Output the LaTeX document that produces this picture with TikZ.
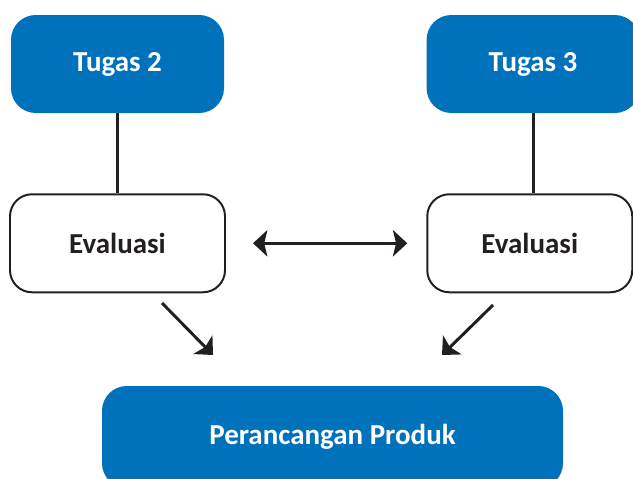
\documentclass[tikz,border=0pt]{standalone}
\usepackage{fontspec}
\setmainfont{Carlito}
\usepackage{xcolor}
\usepackage{tikz}
\usetikzlibrary{positioning,calc,arrows.meta}
\definecolor{taskBlue}{RGB}{0,113,187}
\definecolor{inkDark}{RGB}{35,31,32}
\tikzset{
  taskBox/.style={
    rectangle,
    rounded corners=0.62cm,
    fill=taskBlue,
    text=white,
    minimum width=5.325cm,
    minimum height=2.45cm,
    font=\fontsize{20.6}{24}\selectfont\bfseries,
    align=center
  },
  evalBox/.style={
    rectangle,
    rounded corners=0.55cm,
    draw=inkDark,
    line width=1.4pt,
    fill=white,
    text=inkDark,
    minimum height=2.45cm,
    font=\fontsize{20.6}{24}\selectfont\bfseries,
    align=center
  },
  productBox/.style={
    rectangle,
    rounded corners=0.62cm,
    fill=taskBlue,
    text=white,
    minimum width=11.525cm,
    minimum height=2.55cm,
    font=\fontsize{20.6}{24}\selectfont\bfseries,
    align=center
  },
  plainLine/.style={
    draw=inkDark,
    line width=2.1pt
  },
  arrowLine/.style={
    -{Stealth[length=0.36cm,width=0.66cm,inset=0.08cm]},
    draw=inkDark,
    fill=inkDark,
    line width=2.1pt
  },
  doubleArrow/.style={
    {Stealth[length=0.36cm,width=0.66cm,inset=0.08cm]}-{Stealth[length=0.36cm,width=0.66cm,inset=0.08cm]},
    draw=inkDark,
    fill=inkDark,
    line width=2.1pt
  }
}

\begin{document}
\begin{tikzpicture}
        \useasboundingbox (0,0) rectangle (15.825,-11.95);

        \node[taskBox] (tugasA) at (2.9375,-1.6) {Tugas 2};
        \node[taskBox, right=5.05cm of tugasA] (tugasB) {Tugas 3};
        \node[evalBox, minimum width=5.375cm, below=2cm of tugasA] (evalA) {Evaluasi};
        \node[evalBox, minimum width=5.125cm, below=2cm of tugasB.south west, anchor=north west] (evalB) {Evaluasi};
        \node[productBox] (produk) at (8.3125,-10.925) {Perancangan Produk};

        % ujung panah miring
        \coordinate (aStart) at (4.05,-7.575);
        \coordinate (aEnd) at (5.325,-8.875);
        \coordinate (bStart) at (12.325,-7.625);
        \coordinate (bEnd) at (11.05,-8.875);

        \draw[plainLine] (tugasA) -- (evalA);
        \draw[plainLine] (tugasB.south) -- (tugasB.south |- evalB.north);
        \draw[doubleArrow, shorten <=0.675cm, shorten >=0.475cm] (evalA) -- (evalB);
        \draw[arrowLine] (aStart) -- (aEnd);
        \draw[arrowLine] (bStart) -- (bEnd);
    \end{tikzpicture}
\end{document}
